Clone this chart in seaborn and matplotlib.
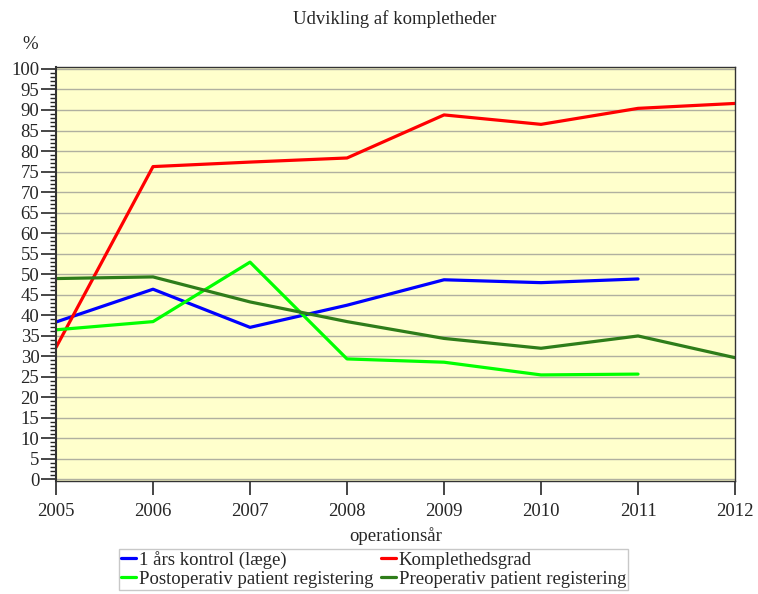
import numpy as np
import pandas as pd
import seaborn as sns
import matplotlib.pyplot as plt
from matplotlib.ticker import MultipleLocator

years = [2005, 2006, 2007, 2008, 2009, 2010, 2011, 2012]
kontrol = [38.3, 46.3, 37.0, 42.4, 48.6, 47.9, 48.8, np.nan]
komplethed = [32.1, 76.2, 77.3, 78.3, 88.8, 86.5, 90.4, 91.6]
postop = [36.4, 38.4, 52.9, 29.3, 28.5, 25.4, 25.6, np.nan]
preop = [48.9, 49.3, 43.2, 38.4, 34.3, 31.9, 34.9, 29.6]

series_names = ['1 års kontrol (læge)', 'Komplethedsgrad',
                'Postoperativ patient registering', 'Preoperativ patient registering']
colors = ['#0000FF', '#FF0000', '#00FF00', '#2E7D1A']

df = pd.DataFrame({'year': years, series_names[0]: kontrol, series_names[1]: komplethed,
                   series_names[2]: postop, series_names[3]: preop})
long_df = df.melt(id_vars='year', var_name='serie', value_name='pct').dropna()

sns.set_style('white')
plt.rcParams['font.family'] = ['Liberation Serif', 'DejaVu Serif']

fig = plt.figure(figsize=(7.58, 5.94), dpi=100)
ax = fig.add_axes([0.0739, 0.190, 0.8958, 0.698])
ax.set_facecolor('#FFFFCC')

sns.lineplot(data=long_df, x='year', y='pct', hue='serie', hue_order=series_names,
             palette=colors, linewidth=2.3, ax=ax, legend=True)

ax.set_xlim(2005, 2012)
ax.set_ylim(-0.5, 100.6)
ax.yaxis.set_major_locator(MultipleLocator(5))
ax.yaxis.set_minor_locator(MultipleLocator(1))
ax.set_xticks(years)
ax.grid(axis='y', which='major', color='#B0B0A0', linewidth=1.0)
ax.set_axisbelow(True)
for s in ax.spines.values():
    s.set_color('#333333')
    s.set_linewidth(1.0)
ax.spines['left'].set_linewidth(1.5)

ax.tick_params(axis='y', which='major', direction='out', length=11, width=1.2, labelsize=13.5, pad=1, left=True)
ax.tick_params(axis='y', which='minor', direction='out', length=4.5, width=1, left=True)
ax.tick_params(axis='x', which='major', direction='out', length=10, width=1.2, labelsize=13.5, pad=6, bottom=True)

ax.set_xlabel('operationsår', fontsize=13.5, labelpad=5)
ax.set_ylabel('')
ax.text(-0.038, 1.053, '%', transform=ax.transAxes, fontsize=13.5, ha='center', va='center')
fig.text(0.521, 0.968, 'Udvikling af kompletheder', fontsize=13.5, ha='center', va='center')

# row-wise legend order like the reference
handles, labels = ax.get_legend_handles_labels()
order = [0, 2, 1, 3]
ax.legend([handles[i] for i in order], [labels[i] for i in order],
          loc='upper center', bbox_to_anchor=(0.468, -0.164), ncol=2,
          fontsize=13.5, frameon=True, fancybox=False, edgecolor='#BBBBBB',
          handlelength=0.8, handletextpad=0.15, columnspacing=0.4, borderpad=0.1,
          labelspacing=0.1, borderaxespad=0)

fig.savefig('out.png', dpi=100, facecolor='white')
